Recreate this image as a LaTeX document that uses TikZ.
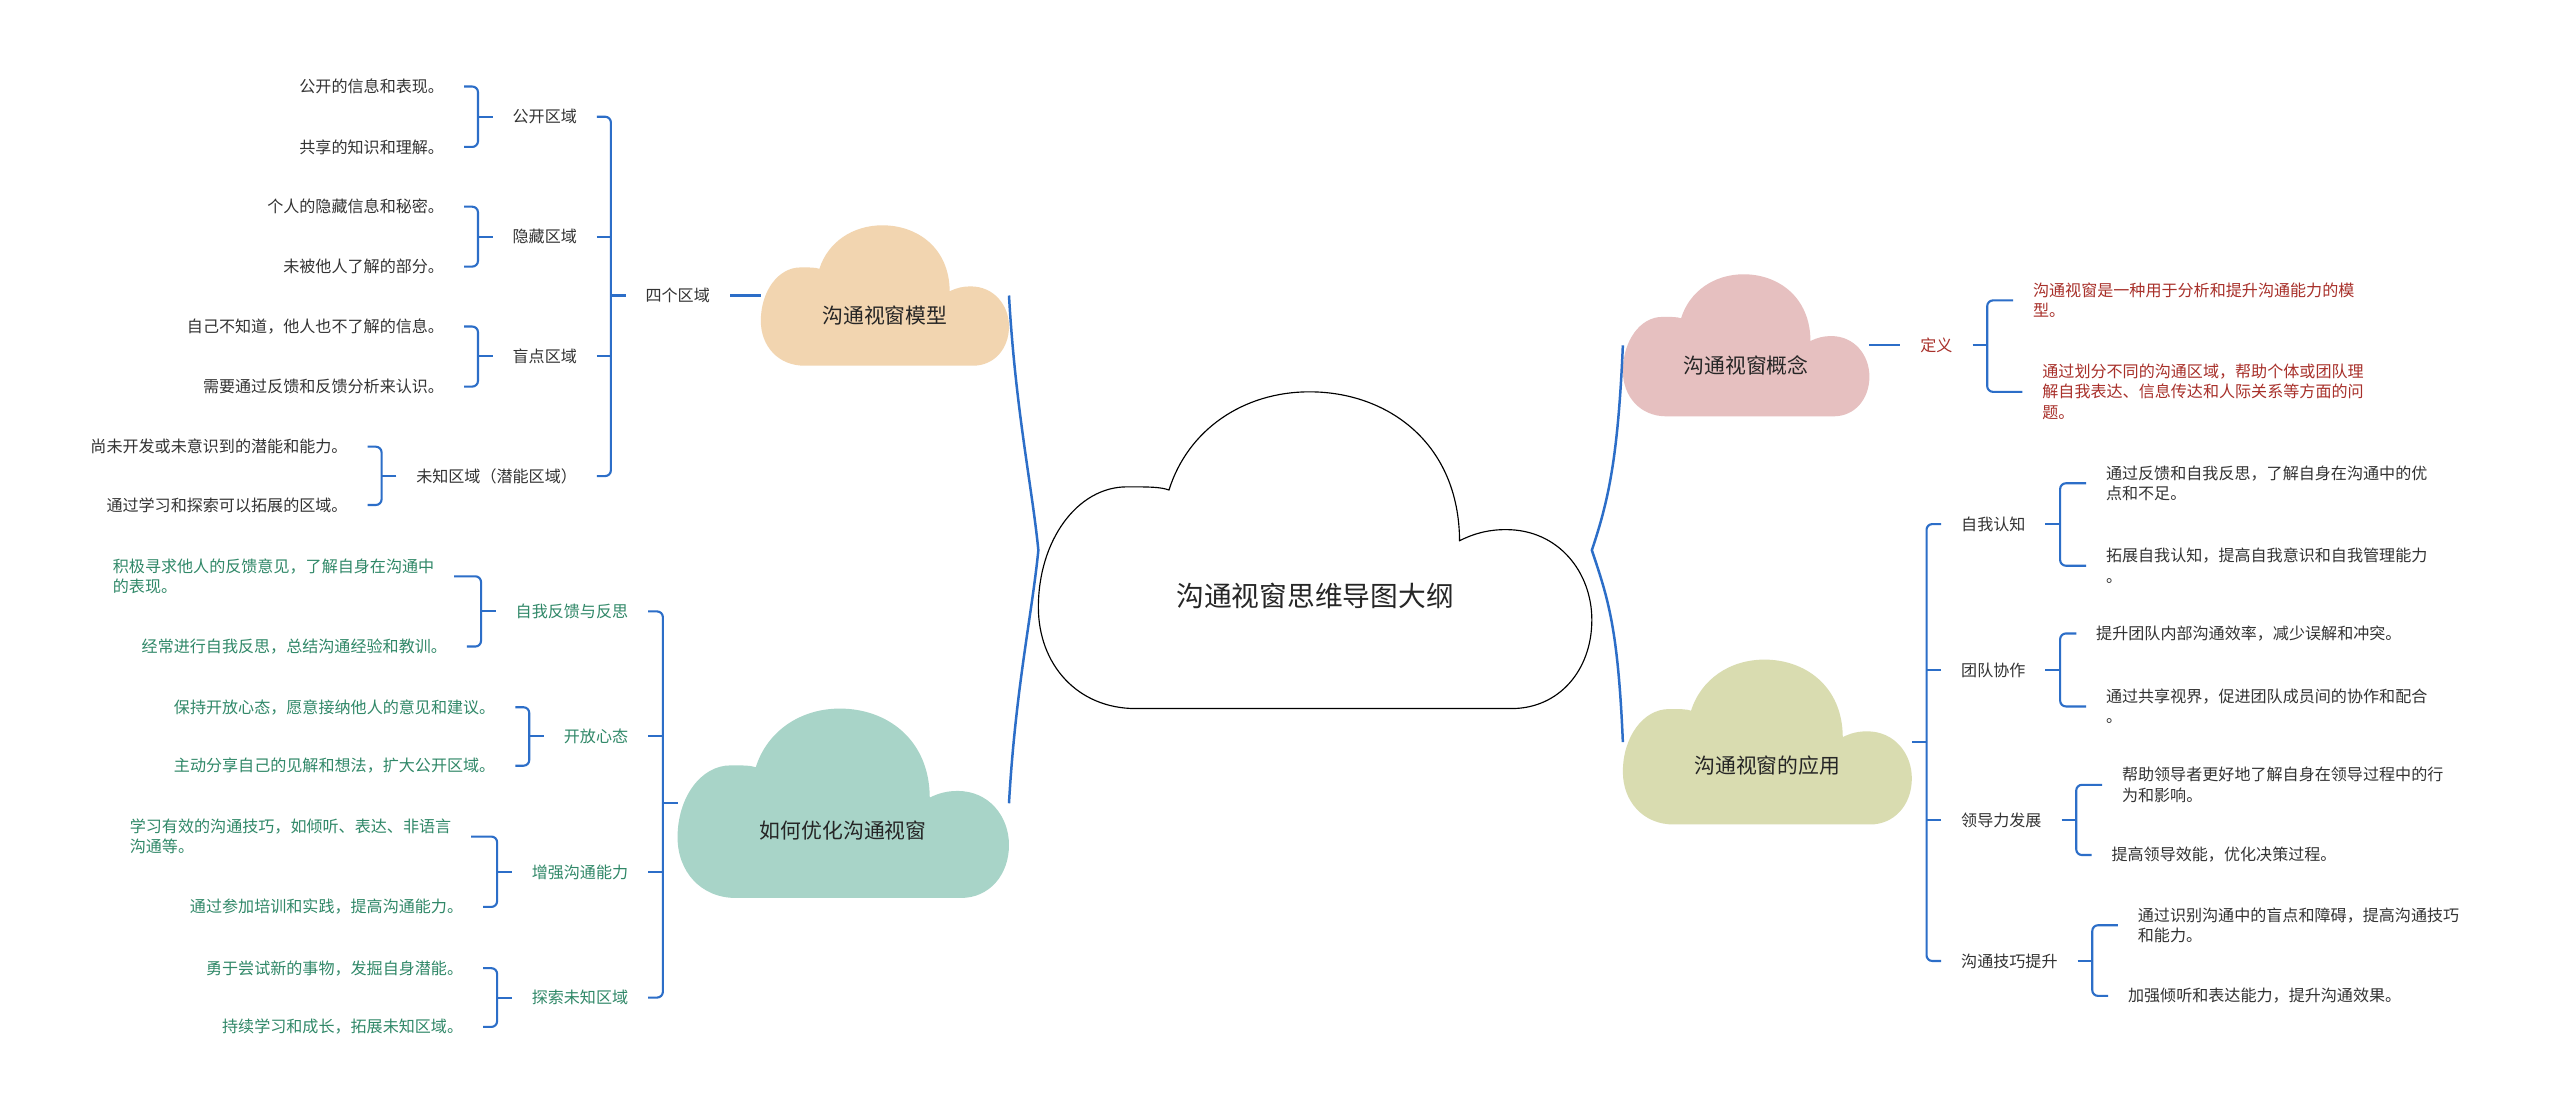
\documentclass[tikz,border=0pt]{standalone}
\usepackage{fontspec}
\setmainfont{Noto Sans CJK SC}
\usetikzlibrary{calc}

\definecolor{linkblue}{RGB}{44,110,200}
\definecolor{txtgray}{HTML}{333333}
\definecolor{tealtxt}{RGB}{48,136,104}
\definecolor{redtxt}{RGB}{168,48,42}
\definecolor{peach}{HTML}{F2D5B0}
\definecolor{mint}{HTML}{A8D4C8}
\definecolor{rose}{HTML}{E6C0C0}
\definecolor{olive}{HTML}{D9DCB0}

% cloud outline in a unit box (y runs down)
\newcommand\cloudpath{(0.176,1) .. controls (0.07,1) and (0,0.86) .. (0,0.68)
  .. controls (0,0.47) and (0.07,0.30) .. (0.16,0.30)
  .. controls (0.2,0.30) and (0.22,0.30) .. (0.236,0.31)
  .. controls (0.27,0.12) and (0.37,0) .. (0.49,0)
  .. controls (0.63,0) and (0.76,0.16) .. (0.761,0.47)
  .. controls (0.79,0.445) and (0.815,0.435) .. (0.845,0.435)
  .. controls (0.94,0.435) and (1,0.57) .. (1,0.72)
  .. controls (1,0.88) and (0.94,1) .. (0.855,1) -- cycle}

\tikzset{
  link/.style={draw=linkblue, line width=1.1pt, rounded corners=3pt},
  brace/.style={draw=linkblue, line width=1.3pt},
  cloudbox/.style={inner sep=0pt, outer sep=0pt},
  cloudtext/.style={font=\fontsize{10.9}{13}\selectfont, text=black!85},
  subitem/.style={font=\fontsize{8.4}{10.6}\selectfont, text=txtgray, inner xsep=0.36cm, inner ysep=2pt, align=left},
  leafitem/.style={subitem},
  tealitem/.style={subitem, text=tealtxt},
  reditem/.style={subitem, text=redtxt},
}

\begin{document}
\begin{tikzpicture}[x=0.03cm, y=-0.03cm]
  \useasboundingbox (0,0) rectangle (1568,682);
  \fill[white] (0,0) rectangle (1568,682);

  % Central cloud
  \begin{scope}[shift={(636,240)}, xscale=339, yscale=194]
    \filldraw[fill=white, draw=black, line width=0.6pt] \cloudpath;
    \node[cloudbox, minimum width=10.17cm, minimum height=5.82cm] (title) at (0.5,0.5) {};
    \node[cloudtext, font=\fontsize{14.5}{17}\selectfont] (title-t) at (0.5,0.645) {沟通视窗思维导图大纲};
  \end{scope}

  % Main topic clouds
  \foreach \nm/\lx/\ty/\w/\h/\col/\txt in {model/466/138/152/86/peach/沟通视窗模型,
      optimize/415/434/203/116/mint/如何优化沟通视窗,
      concept/994/168/151/87/rose/沟通视窗概念,
      apply/994/404/177/101/olive/沟通视窗的应用} {
    \begin{scope}[shift={(\lx,\ty)}, xscale=\w, yscale=\h]
      \fill[\col] \cloudpath;
      \node[cloudbox, minimum width=\w*0.03cm, minimum height=\h*0.03cm] (\nm) at (0.5,0.5) {};
      \node[cloudtext] (\nm-t) at (0.5,0.645) {\txt};
    \end{scope}
  }

  % Braces from the centre
  \draw[brace] (model.east) .. controls +(4,70) and +(-4,-40) .. (title.west)
    .. controls +(-4,40) and +(4,-70) .. (optimize.east);
  \draw[brace] (concept.west) .. controls +(-3,70) and +(10,-30) .. (title.east)
    .. controls +(10,30) and +(-3,-70) .. (apply.west);

  % Model branch
  \node[subitem, anchor=east] (zones) at (447,181) {四个区域};
  \node[subitem, anchor=east] (pub) at (365.6,71.5) {公开区域};
  \node[subitem, anchor=east] (hid) at (365.6,145) {隐藏区域};
  \node[subitem, anchor=east] (blind) at (365.6,218) {盲点区域};
  \node[subitem, anchor=east] (unk) at (365.6,291.6) {未知区域（潜能区域）};
  \node[leafitem, anchor=east] (pub-a) at (284.2,53) {公开的信息和表现。};
  \node[leafitem, anchor=east] (pub-b) at (284.2,90) {共享的知识和理解。};
  \node[leafitem, anchor=east] (hid-a) at (284.2,126.6) {个人的隐藏信息和秘密。};
  \node[leafitem, anchor=east] (hid-b) at (284.2,163.3) {未被他人了解的部分。};
  \node[leafitem, anchor=east] (blind-a) at (284.2,200) {自己不知道，他人也不了解的信息。};
  \node[leafitem, anchor=east] (blind-b) at (284.2,236.8) {需要通过反馈和反馈分析来认识。};
  \node[leafitem, anchor=east] (unk-a) at (225.1,273.6) {尚未开发或未意识到的潜能和能力。};
  \node[leafitem, anchor=east] (unk-b) at (225.1,309.3) {通过学习和探索可以拓展的区域。};
  \draw[link] (model.west) -- (zones.east);
  \draw[link] (zones.west) -- ++(-9,0) coordinate (zones-j);
  \draw[link] (pub.east) -| (zones-j) |- (unk.east);
  \draw[link] (hid.east) -- (hid.east -| zones-j);
  \draw[link] (blind.east) -- (blind.east -| zones-j);

  % Optimize branch
  \node[tealitem, anchor=east] (fb) at (397,374.5) {自我反馈与反思};
  \node[tealitem, anchor=east] (open) at (397,451) {开放心态};
  \node[tealitem, anchor=east] (skill) at (397,534.3) {增强沟通能力};
  \node[tealitem, anchor=east] (expl) at (397,611) {探索未知区域};
  \node[tealitem, anchor=west] (fb-a) at (56.9,353) {积极寻求他人的反馈意见，了解自身在沟通中\\的表现。};
  \node[tealitem, anchor=east] (fb-b) at (286,396) {经常进行自我反思，总结沟通经验和教训。};
  \node[tealitem, anchor=east] (open-a) at (315.6,433.2) {保持开放心态，愿意接纳他人的意见和建议。};
  \node[tealitem, anchor=east] (open-b) at (315.6,469) {主动分享自己的见解和想法，扩大公开区域。};
  \node[tealitem, anchor=west] (skill-a) at (67.3,512.4) {学习有效的沟通技巧，如倾听、表达、非语言\\沟通等。};
  \node[tealitem, anchor=east] (skill-b) at (295.9,555.5) {通过参加培训和实践，提高沟通能力。};
  \node[tealitem, anchor=east] (expl-a) at (295.9,593) {勇于尝试新的事物，发掘自身潜能。};
  \node[tealitem, anchor=east] (expl-b) at (295.9,629) {持续学习和成长，拓展未知区域。};
  \draw[link] (optimize.west) -- ++(-9,0) coordinate (optimize-j);
  \draw[link] (fb.east) -| (optimize-j) |- (expl.east);
  \draw[link] (open.east) -- (open.east -| optimize-j);
  \draw[link] (skill.east) -- (skill.east -| optimize-j);

  % Leaf brackets on the left
  \foreach \s in {pub,hid,blind,unk,fb,open,skill,expl} {
    \draw[link] (\s.west) -- ++(-9,0) coordinate (\s-j);
    \draw[link] (\s-a.east) -| (\s-j) |- (\s-b.east);
  }

  % Concept branch
  \node[reditem, anchor=west] (dingyi) at (1164,211.5) {定义};
  \node[reditem, anchor=west] (dingyi-a) at (1233,184) {沟通视窗是一种用于分析和提升沟通能力的模\\型。};
  \node[reditem, anchor=west] (dingyi-b) at (1238.7,240) {通过划分不同的沟通区域，帮助个体或团队理\\解自我表达、信息传达和人际关系等方面的问\\题。};
  \draw[link] (concept.east) -- (dingyi.west);

  % Apply branch
  \node[subitem, anchor=west] (self) at (1189,321) {自我认知};
  \node[subitem, anchor=west] (team) at (1189,410.4) {团队协作};
  \node[subitem, anchor=west] (lead) at (1189,502.3) {领导力发展};
  \node[subitem, anchor=west] (tech) at (1189,588.6) {沟通技巧提升};
  \node[leafitem, anchor=west] (self-a) at (1277.7,296) {通过反馈和自我反思，了解自身在沟通中的优\\点和不足。};
  \node[leafitem, anchor=west] (self-b) at (1277.7,346.5) {拓展自我认知，提高自我意识和自我管理能力\\。};
  \node[leafitem, anchor=west] (team-a) at (1271.7,388) {提升团队内部沟通效率，减少误解和冲突。};
  \node[leafitem, anchor=west] (team-b) at (1277.7,432.7) {通过共享视界，促进团队成员间的协作和配合\\。};
  \node[leafitem, anchor=west] (lead-a) at (1287.5,480.7) {帮助领导者更好地了解自身在领导过程中的行\\为和影响。};
  \node[leafitem, anchor=west] (lead-b) at (1281.1,523.7) {提高领导效能，优化决策过程。};
  \node[leafitem, anchor=west] (tech-a) at (1297.2,566.7) {通过识别沟通中的盲点和障碍，提高沟通技巧\\和能力。};
  \node[leafitem, anchor=west] (tech-b) at (1291.2,610) {加强倾听和表达能力，提升沟通效果。};
  \draw[link] (apply.east) -- ++(9,0) coordinate (apply-j);
  \draw[link] (self.west) -| (apply-j) |- (tech.west);
  \draw[link] (team.west) -- (team.west -| apply-j);
  \draw[link] (lead.west) -- (lead.west -| apply-j);

  % Leaf brackets on the right
  \foreach \s in {dingyi,self,team,lead,tech} {
    \draw[link] (\s.east) -- ++(9,0) coordinate (\s-j);
    \draw[link] (\s-a.west) -| (\s-j) |- (\s-b.west);
  }
\end{tikzpicture}
\end{document}
